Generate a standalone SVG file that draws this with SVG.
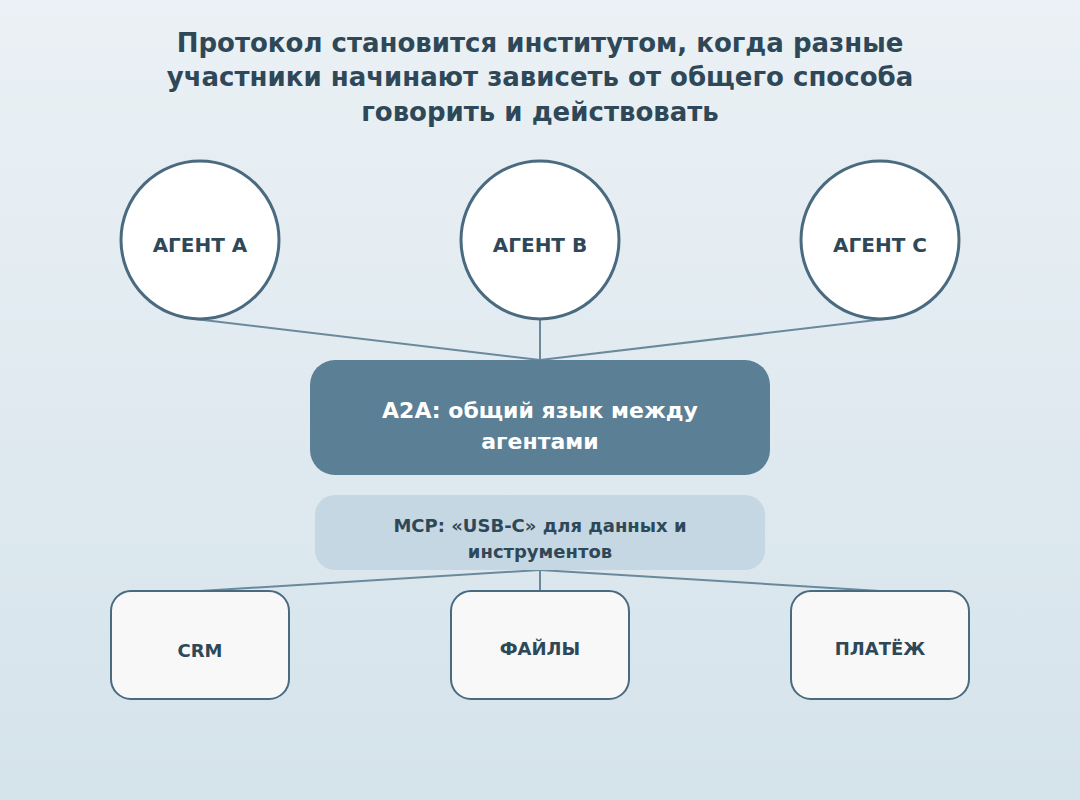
<svg xmlns="http://www.w3.org/2000/svg" width="1080" height="800" viewBox="0 0 1080 800">
<defs>
<linearGradient id="bg" x1="0" y1="0" x2="0" y2="1"><stop offset="0" stop-color="#ebf1f5"/><stop offset="1" stop-color="#d5e3eb"/></linearGradient>
<style>
text{font-family:"DejaVu Sans",sans-serif;font-weight:bold;text-anchor:middle}
.t{font-size:26px;fill:#2f4858}
.c{fill:#fff;stroke:#4a6a80;stroke-width:3}
.cl{font-size:20px;fill:#2f4858}
.ln{stroke:#6a8a9c;stroke-width:2;fill:none}
.b{fill:#f8f8f8;stroke:#4a6a80;stroke-width:2}
.bl{font-size:18px;fill:#2f4858}
</style>
</defs>
<rect width="1080" height="800" fill="url(#bg)"/>
<text class="t" x="540" y="52">Протокол становится институтом, когда разные</text>
<text class="t" x="540" y="86">участники начинают зависеть от общего способа</text>
<text class="t" x="540" y="121">говорить и действовать</text>
<g id="connectors">
<line class="ln" x1="195" y1="319" x2="540" y2="360"/>
<line class="ln" x1="540" y1="320" x2="540" y2="360"/>
<line class="ln" x1="885" y1="319" x2="540" y2="360"/>
<line class="ln" x1="540" y1="570" x2="200" y2="591"/>
<line class="ln" x1="540" y1="570" x2="540" y2="591"/>
<line class="ln" x1="540" y1="570" x2="880" y2="591"/>
</g>
<g id="agentA"><circle class="c" cx="200" cy="240" r="79"/><text class="cl" x="200" y="252">АГЕНТ A</text></g>
<g id="agentB"><circle class="c" cx="540" cy="240" r="79"/><text class="cl" x="540" y="252">АГЕНТ B</text></g>
<g id="agentC"><circle class="c" cx="880" cy="240" r="79"/><text class="cl" x="880" y="252">АГЕНТ C</text></g>
<g id="a2a"><rect x="310" y="360" width="460" height="115" rx="25" fill="#5b7f94"/>
<text x="540" y="418" style="font-size:22px;fill:#fff">A2A: общий язык между</text>
<text x="540" y="449" style="font-size:22px;fill:#fff">агентами</text></g>
<g id="mcp"><rect x="315" y="495" width="450" height="75" rx="20" fill="#c5d7e2"/>
<text class="bl" x="540" y="532">MCP: «USB-C» для данных и</text>
<text class="bl" x="540" y="558">инструментов</text></g>
<g id="crm"><rect class="b" x="111" y="591" width="178" height="108" rx="20"/><text class="bl" x="200" y="657">CRM</text></g>
<g id="files"><rect class="b" x="451" y="591" width="178" height="108" rx="20"/><text class="bl" x="540" y="655">ФАЙЛЫ</text></g>
<g id="pay"><rect class="b" x="791" y="591" width="178" height="108" rx="20"/><text class="bl" x="880" y="655">ПЛАТЁЖ</text></g>
</svg>
